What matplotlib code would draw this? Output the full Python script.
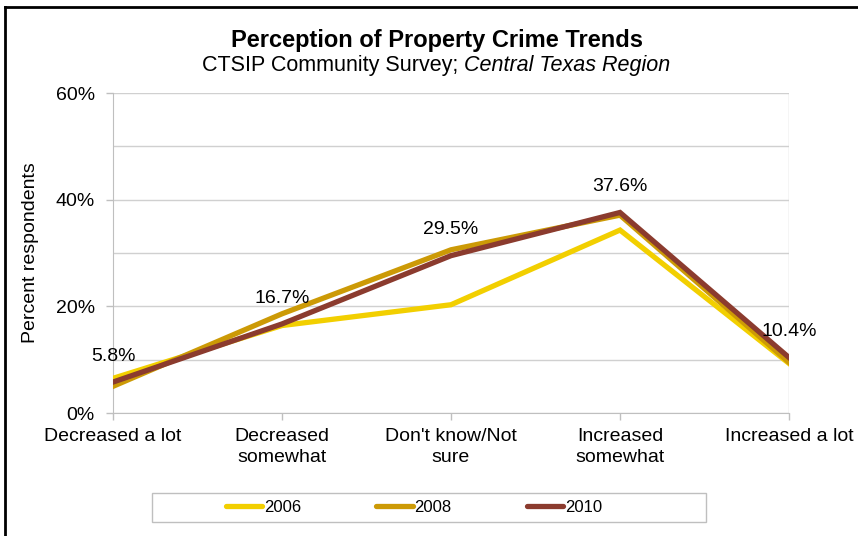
import matplotlib.pyplot as plt
from matplotlib.lines import Line2D
from matplotlib.patches import Rectangle

plt.rcParams['font.family'] = ['Liberation Sans', 'DejaVu Sans']

categories = ["Decreased a lot", "Decreased\nsomewhat", "Don't know/Not\nsure",
              "Increased\nsomewhat", "Increased a lot"]
years = ["2006", "2008", "2010"]
pct_2006 = [6.5, 16.4, 20.3, 34.3, 9.3]
pct_2008 = [5.0, 18.6, 30.6, 37.1, 9.5]
pct_2010 = [5.8, 16.7, 29.5, 37.6, 10.4]
colors = ["#F2CF00", "#CC9A06", "#8B3B2E"]

W, H = 858, 536
fig = plt.figure(figsize=(W / 100, H / 100), dpi=100)
ax = fig.add_axes([113 / W, 1 - 413 / H, (789 - 113) / W, (413 - 93) / H])

x = list(range(len(categories)))
for vals, c, yr in zip([pct_2006, pct_2008, pct_2010], colors, years):
    ax.plot(x, vals, color=c, lw=3.8, solid_joinstyle='miter', label=yr, zorder=3)

# value labels for the latest survey
for xi, v in zip(x, pct_2010):
    ax.annotate(f"{v:.1f}%", (xi, v), xytext=(0, 18.5), textcoords='offset points',
                ha='center', va='center', fontsize=14, zorder=4)

ax.set_xlim(0, 4)
ax.set_ylim(0, 60)
ax.set_yticks([0, 20, 40, 60])
ax.set_yticklabels(["0%", "20%", "40%", "60%"], fontsize=14)
ax.set_yticks([10, 30, 50], minor=True)
ax.set_xticks(x)
ax.set_xticklabels(categories, fontsize=14, linespacing=1.3)
ax.tick_params(axis='both', colors='#BFBFBF', labelcolor='black', length=5, width=1)
ax.tick_params(axis='y', which='minor', length=0)
ax.tick_params(axis='y', pad=8)
ax.tick_params(axis='x', direction='out', pad=6)
ax.grid(axis='y', which='both', color='#D0D0D0', lw=1)
ax.axvline(4, color='#D0D0D0', lw=1)
for side in ['top', 'right']:
    ax.spines[side].set_visible(False)
for side in ['left', 'bottom']:
    ax.spines[side].set_color('#BFBFBF')
ax.set_ylabel("Percent respondents", fontsize=14)
ax.yaxis.set_label_coords(-74 / (789 - 113), 0.5)

# title block
fig.text(437 / W, 1 - 41 / H, "Perception of Property Crime Trends",
         ha='center', va='center', fontsize=17, fontweight='bold')
fig.text(458 / W, 1 - 66 / H, "CTSIP Community Survey;",
         ha='right', va='center', fontsize=15.5)
fig.text(464 / W, 1 - 66 / H, "Central Texas Region",
         ha='left', va='center', fontsize=15.5, style='italic')

# legend with its own box
fig.patches.append(Rectangle((152 / W, 1 - 522 / H), (706 - 152) / W, 29 / H,
                             transform=fig.transFigure, fill=False,
                             edgecolor='#BFBFBF', lw=1))
handles = [Line2D([], [], color=c, lw=3.8, solid_capstyle='round') for c in colors]
fig.legend(handles, years, loc='center', bbox_to_anchor=(414 / W, 1 - 507 / H),
           ncol=3, frameon=False, fontsize=12, handlelength=2.2,
           handletextpad=0.1, columnspacing=4.5)

# outer frame
fig.add_artist(Line2D([5 / W, 1], [1 - 7 / H, 1 - 7 / H], color='black', lw=2,
                      transform=fig.transFigure))
fig.add_artist(Line2D([5 / W, 5 / W], [0, 1 - 7 / H], color='black', lw=2,
                      transform=fig.transFigure))

fig.savefig("out.png", dpi=100)
